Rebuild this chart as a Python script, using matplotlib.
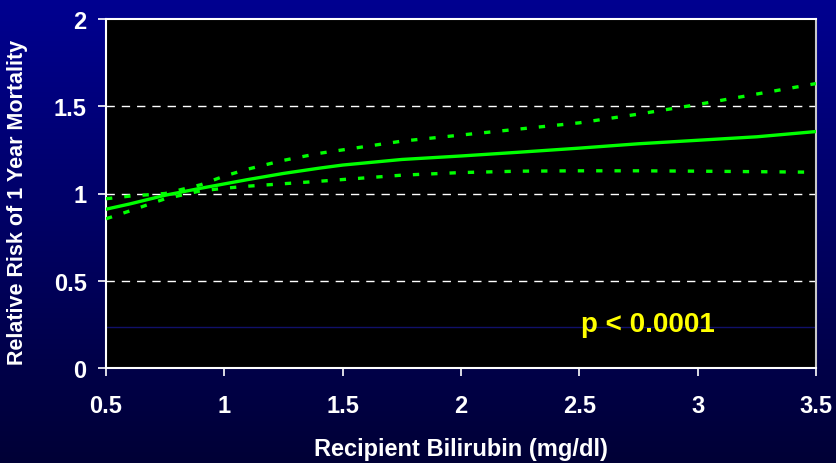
import matplotlib.pyplot as plt
import numpy as np

plt.rcParams['font.family'] = ['Liberation Sans', 'DejaVu Sans']
plt.rcParams['font.weight'] = 'bold'

# values
bili = [0.5, 0.6, 0.75, 0.9, 1.0, 1.1, 1.25, 1.4, 1.5, 1.75, 2.0, 2.25, 2.5, 2.75, 3.0, 3.25, 3.5]
rr = [0.91, 0.94, 0.99, 1.03, 1.055, 1.08, 1.115, 1.145, 1.163, 1.195, 1.215, 1.237, 1.26, 1.285, 1.305, 1.325, 1.355]
upper = [0.97, 0.985, 1.0, 1.05, 1.1, 1.14, 1.19, 1.23, 1.25, 1.30, 1.335, 1.37, 1.405, 1.455, 1.51, 1.57, 1.63]
lower = [0.855, 0.90, 0.97, 1.015, 1.03, 1.042, 1.056, 1.07, 1.08, 1.105, 1.12, 1.128, 1.13, 1.13, 1.128, 1.125, 1.122]

xticks = [0.5, 1, 1.5, 2, 2.5, 3, 3.5]
yticks = [0, 0.5, 1, 1.5, 2]

fig = plt.figure(figsize=(8.36, 4.64), dpi=100)

# gradient background
bg = fig.add_axes([0, 0, 1, 1], zorder=-10)
grad = np.linspace(0, 1, 256).reshape(-1, 1)
top = np.array([0, 0, 0x90]) / 255
bot = np.array([0, 0, 0x36]) / 255
img = top + (bot - top) * grad[:, :, None]
bg.imshow(img, aspect='auto', extent=[0, 1, 0, 1])
bg.axis('off')

ax = fig.add_axes([106 / 836, 1 - 369 / 464, 710 / 836, 349 / 464])
ax.set_facecolor('black')

green = '#00ff00'
ax.plot(bili, rr, color=green, lw=2.4, zorder=3)
ax.plot(bili, upper, color=green, lw=2.4, dashes=(1.9, 3.6), zorder=3)
ax.plot(bili, lower, color=green, lw=2.4, dashes=(1.9, 3.6), zorder=3)

for y in [0.5, 1, 1.5]:
    ax.axhline(y, color='white', lw=1, dashes=(6, 5), zorder=1)
ax.axhline(0.235, color='#10106a', lw=1, zorder=1)

ax.set_xlim(0.5, 3.5)
ax.set_ylim(0, 2)
ax.set_xticks(xticks)
ax.set_xticklabels(['0.5', '1', '1.5', '2', '2.5', '3', '3.5'])
ax.set_yticks(yticks)
ax.set_yticklabels(['0', '0.5', '1', '1.5', '2'])
ax.tick_params(colors='white', labelsize=17, length=6, width=1.2)
ax.tick_params(axis='y', pad=8)
ax.tick_params(axis='x', pad=13)
for s in ['left', 'bottom', 'top']:
    ax.spines[s].set_color('white')
    ax.spines[s].set_linewidth(1.5)
ax.spines['right'].set_color('#c8c8c8')
ax.spines['right'].set_linewidth(1.5)

ax.set_xlabel('Recipient Bilirubin (mg/dl)', color='white', fontsize=17, fontweight='bold', labelpad=14)
fig.text(18 / 836, 1 - 202.5 / 464, 'Relative Risk of 1 Year Mortality', color='white',
         fontsize=15.5, fontweight='bold', rotation=90, ha='center', va='center')

ax.text(2.79, 0.25, 'p < 0.0001', color='#ffff00', fontsize=20, fontweight='bold',
        ha='center', va='center', zorder=4)

fig.savefig('out.png', dpi=100)
